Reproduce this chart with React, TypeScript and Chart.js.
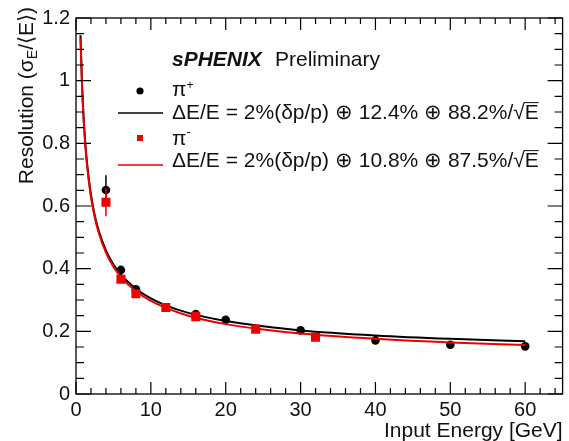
import { useEffect, useRef } from "react";
import { Chart, registerables } from "chart.js";

Chart.register(...registerables);

const FONT = '"Liberation Sans", Arial, Helvetica, sans-serif';

// ---- axis ranges / ticks ----
const xMin = 0;
const xMax = 65;
const yMin = 0;
const yMax = 1.2;
const xMajorStep = 10;
const xMinorStep = 2;
const yMajorStep = 0.2;
const yMinorStep = 0.05;

// ---- data: pi+ (black circles) ----
const piPlusEnergy = [4, 6, 8, 16, 20, 30, 40, 50, 60];
const piPlusRes = [0.651, 0.396, 0.334, 0.255, 0.237, 0.203, 0.171, 0.157, 0.152];
const piPlusErr = [0.047, 0.007, 0.006, 0.005, 0.004, 0.004, 0.004, 0.003, 0.003];

// ---- data: pi- (red squares) ----
const piMinusEnergy = [4, 6, 8, 12, 16, 24, 32];
const piMinusRes = [0.612, 0.366, 0.32, 0.276, 0.247, 0.207, 0.181];
const piMinusErr = [0.045, 0.007, 0.006, 0.005, 0.005, 0.004, 0.004];

// ---- fit curves ----
const fitEnergy = [0.6, 0.8, 1, 1.25, 1.5, 2, 2.5, 3, 4, 5, 6, 8, 10, 12, 15, 20, 25, 30, 40, 50, 60];
const fitPlusRes = [1.145, 0.994, 0.891, 0.799, 0.731, 0.636, 0.571, 0.524, 0.458, 0.413, 0.381, 0.336, 0.305, 0.283, 0.259, 0.233, 0.216, 0.203, 0.187, 0.176, 0.168];
const fitMinusRes = [1.135, 0.984, 0.882, 0.79, 0.723, 0.628, 0.564, 0.517, 0.451, 0.406, 0.373, 0.328, 0.297, 0.275, 0.25, 0.223, 0.206, 0.193, 0.176, 0.164, 0.156];

// ---- texts ----
const xTitle = "Input Energy [GeV]";
const yTitleParts = ["Resolution (σ", "E", "/⟨E⟩)"];
const experimentBold = "sPHENIX";
const experimentNormal = "Preliminary";
const plusLabel = "π";
const plusSup = "+";
const minusLabel = "π";
const minusSup = "-";
const plusFormula = "ΔE/E = 2%(δp/p) ⊕ 12.4% ⊕ 88.2%/";
const minusFormula = "ΔE/E = 2%(δp/p) ⊕ 10.8% ⊕ 87.5%/";

const RED = "#ee0000";
const BLACK = "#000000";

const toXY = (xs: number[], ys: number[]) => xs.map((x, i) => ({ x, y: ys[i] }));

const errorSets: (number[] | null)[] = [piMinusErr, null, piPlusErr, null];

function drawSqrtE(ctx: CanvasRenderingContext2D, x: number, baseline: number, size: number) {
  ctx.font = `${size}px ${FONT}`;
  ctx.textAlign = "left";
  ctx.fillText("√", x, baseline);
  const w = ctx.measureText("√").width;
  ctx.fillText("E", x + w, baseline);
  const we = ctx.measureText("E").width;
  ctx.beginPath();
  ctx.lineWidth = 1;
  ctx.moveTo(x + w - 1, baseline - size * 0.78);
  ctx.lineTo(x + w + we, baseline - size * 0.78);
  ctx.stroke();
}

const decorPlugin = {
  id: "decor",
  beforeDatasetDraw(chart: any, args: any) {
    const errs = errorSets[args.index];
    if (!errs) return;
    const ctx: CanvasRenderingContext2D = chart.ctx;
    const xs = chart.scales.x;
    const ys = chart.scales.y;
    const ds = chart.data.datasets[args.index];
    ctx.save();
    ctx.strokeStyle = ds.borderColor;
    ctx.lineWidth = 1.5;
    ds.data.forEach((d: any, i: number) => {
      const px = xs.getPixelForValue(d.x);
      const y1 = ys.getPixelForValue(d.y + errs[i]);
      const y2 = ys.getPixelForValue(d.y - errs[i]);
      ctx.beginPath();
      ctx.moveTo(px, y1);
      ctx.lineTo(px, y2);
      ctx.stroke();
    });
    ctx.restore();
  },
  afterDraw(chart: any) {
    const ctx: CanvasRenderingContext2D = chart.ctx;
    const { left, right, top, bottom } = chart.chartArea;
    const xs = chart.scales.x;
    const ys = chart.scales.y;
    ctx.save();
    // frame
    ctx.strokeStyle = "#000";
    ctx.lineWidth = 1.3;
    ctx.strokeRect(left, top, right - left, bottom - top);
    // x ticks (bottom and top)
    ctx.lineWidth = 1.2;
    for (let v = xMin; v <= xMax + 1e-9; v += xMinorStep) {
      const px = xs.getPixelForValue(v);
      const major = Math.abs(v / xMajorStep - Math.round(v / xMajorStep)) < 1e-6;
      const len = major ? 12 : 6;
      ctx.beginPath();
      ctx.moveTo(px, bottom);
      ctx.lineTo(px, bottom - len);
      ctx.moveTo(px, top);
      ctx.lineTo(px, top + len);
      ctx.stroke();
    }
    // y ticks (left and right)
    for (let k = 0; k * yMinorStep <= yMax + 1e-9; k++) {
      const v = yMin + k * yMinorStep;
      const py = ys.getPixelForValue(v);
      const major = Math.abs(v / yMajorStep - Math.round(v / yMajorStep)) < 1e-6;
      const len = major ? 15 : 8;
      ctx.beginPath();
      ctx.moveTo(left, py);
      ctx.lineTo(left + len, py);
      ctx.moveTo(right, py);
      ctx.lineTo(right - len, py);
      ctx.stroke();
    }
    ctx.fillStyle = "#111";
    ctx.strokeStyle = "#111";
    // x title
    ctx.font = `21px ${FONT}`;
    ctx.textAlign = "right";
    ctx.textBaseline = "alphabetic";
    ctx.fillText(xTitle, right, 437);
    // y title (rotated)
    ctx.save();
    ctx.translate(33, 7);
    ctx.rotate(-Math.PI / 2);
    const big = `21px ${FONT}`;
    const small = `14px ${FONT}`;
    ctx.font = big;
    const w0 = ctx.measureText(yTitleParts[0]).width;
    const w2 = ctx.measureText(yTitleParts[2]).width;
    ctx.font = small;
    const w1 = ctx.measureText(yTitleParts[1]).width;
    const total = w0 + w1 + w2;
    ctx.textAlign = "left";
    let cx = -total;
    ctx.font = big;
    ctx.fillText(yTitleParts[0], cx, 0);
    cx += w0;
    ctx.font = small;
    ctx.fillText(yTitleParts[1], cx, 4);
    cx += w1;
    ctx.font = big;
    ctx.fillText(yTitleParts[2], cx, 0);
    ctx.restore();

    // legend block
    const tx = 172;
    const LS = 21;
    ctx.textAlign = "left";
    ctx.font = `italic bold ${LS}px ${FONT}`;
    ctx.fillText(experimentBold, tx, 66);
    ctx.font = `${LS}px ${FONT}`;
    ctx.fillText(experimentNormal, 275, 66);

    // pi+ marker
    ctx.fillStyle = BLACK;
    ctx.beginPath();
    ctx.arc(140, 91, 3.6, 0, Math.PI * 2);
    ctx.fill();
    ctx.fillStyle = "#111";
    ctx.font = `${LS}px ${FONT}`;
    ctx.fillText(plusLabel, tx, 96);
    const piW = ctx.measureText(plusLabel).width;
    ctx.font = `12px ${FONT}`;
    ctx.fillText(plusSup, tx + piW, 89);

    // black line
    ctx.strokeStyle = BLACK;
    ctx.lineWidth = 1.4;
    ctx.beginPath();
    ctx.moveTo(118, 113);
    ctx.lineTo(163, 113);
    ctx.stroke();
    ctx.font = `${LS}px ${FONT}`;
    ctx.fillText(plusFormula, tx, 119);
    const fw1 = ctx.measureText(plusFormula).width;
    ctx.strokeStyle = "#111";
    drawSqrtE(ctx, tx + fw1, 119, LS);

    // pi- marker
    ctx.fillStyle = RED;
    ctx.fillRect(137, 135, 6, 6);
    ctx.fillStyle = "#111";
    ctx.font = `${LS}px ${FONT}`;
    ctx.fillText(minusLabel, tx, 145);
    ctx.font = `13px ${FONT}`;
    ctx.fillText(minusSup, tx + piW, 136);

    // red line
    ctx.strokeStyle = RED;
    ctx.lineWidth = 1.4;
    ctx.beginPath();
    ctx.moveTo(118, 165);
    ctx.lineTo(163, 165);
    ctx.stroke();
    ctx.font = `${LS}px ${FONT}`;
    ctx.fillText(minusFormula, tx, 167);
    const fw2 = ctx.measureText(minusFormula).width;
    ctx.strokeStyle = "#111";
    drawSqrtE(ctx, tx + fw2, 167, LS);

    ctx.restore();
  },
};

export default function App() {
  const canvasRef = useRef<HTMLCanvasElement | null>(null);

  useEffect(() => {
    if (!canvasRef.current) return;
    const chart = new Chart(canvasRef.current, {
      type: "scatter",
      data: {
        datasets: [
          {
            label: "pi- points",
            data: toXY(piMinusEnergy, piMinusRes),
            pointStyle: "rect",
            pointRadius: 6.4,
            backgroundColor: RED,
            borderColor: RED,
            borderWidth: 0,
            showLine: false,
          },
          {
            label: "pi- fit",
            data: toXY(fitEnergy, fitMinusRes),
            showLine: true,
            pointRadius: 0,
            borderColor: RED,
            borderWidth: 2,
            cubicInterpolationMode: "monotone",
          },
          {
            label: "pi+ points",
            data: toXY(piPlusEnergy, piPlusRes),
            pointStyle: "circle",
            pointRadius: 4.3,
            backgroundColor: BLACK,
            borderColor: BLACK,
            borderWidth: 0,
            showLine: false,
          },
          {
            label: "pi+ fit",
            data: toXY(fitEnergy, fitPlusRes),
            showLine: true,
            pointRadius: 0,
            borderColor: BLACK,
            borderWidth: 2,
            cubicInterpolationMode: "monotone",
          },
        ],
      },
      options: {
        animation: false,
        responsive: false,
        devicePixelRatio: 1,
        layout: { padding: { left: 0, right: 2, top: 15, bottom: 0 } },
        plugins: {
          legend: { display: false },
          tooltip: { enabled: false },
          title: { display: false },
        },
        scales: {
          x: {
            type: "linear",
            min: xMin,
            max: xMax,
            grid: { display: false, drawTicks: false },
            border: { display: false },
            ticks: {
              stepSize: xMajorStep,
              padding: 4,
              color: "#111",
              font: { family: FONT, size: 20 },
              maxRotation: 0,
              callback: (v: any) => (Number(v) <= 60 ? String(v) : ""),
            },
            afterFit: (scale: any) => {
              scale.height = 47;
            },
          },
          y: {
            type: "linear",
            min: yMin,
            max: yMax,
            grid: { display: false, drawTicks: false },
            border: { display: false },
            ticks: {
              stepSize: yMajorStep,
              padding: 6,
              color: "#111",
              font: { family: FONT, size: 20 },
              callback: (v: any) => String(Math.round(Number(v) * 10) / 10),
            },
            afterFit: (scale: any) => {
              scale.width = 76;
            },
          },
        },
      },
      plugins: [decorPlugin],
    });
    return () => chart.destroy();
  }, []);

  return (
    <div style={{ position: "absolute", left: 0, top: 0, width: 569, height: 441, background: "#fff" }}>
      <canvas ref={canvasRef} width={569} height={441} style={{ display: "block" }} />
    </div>
  );
}
